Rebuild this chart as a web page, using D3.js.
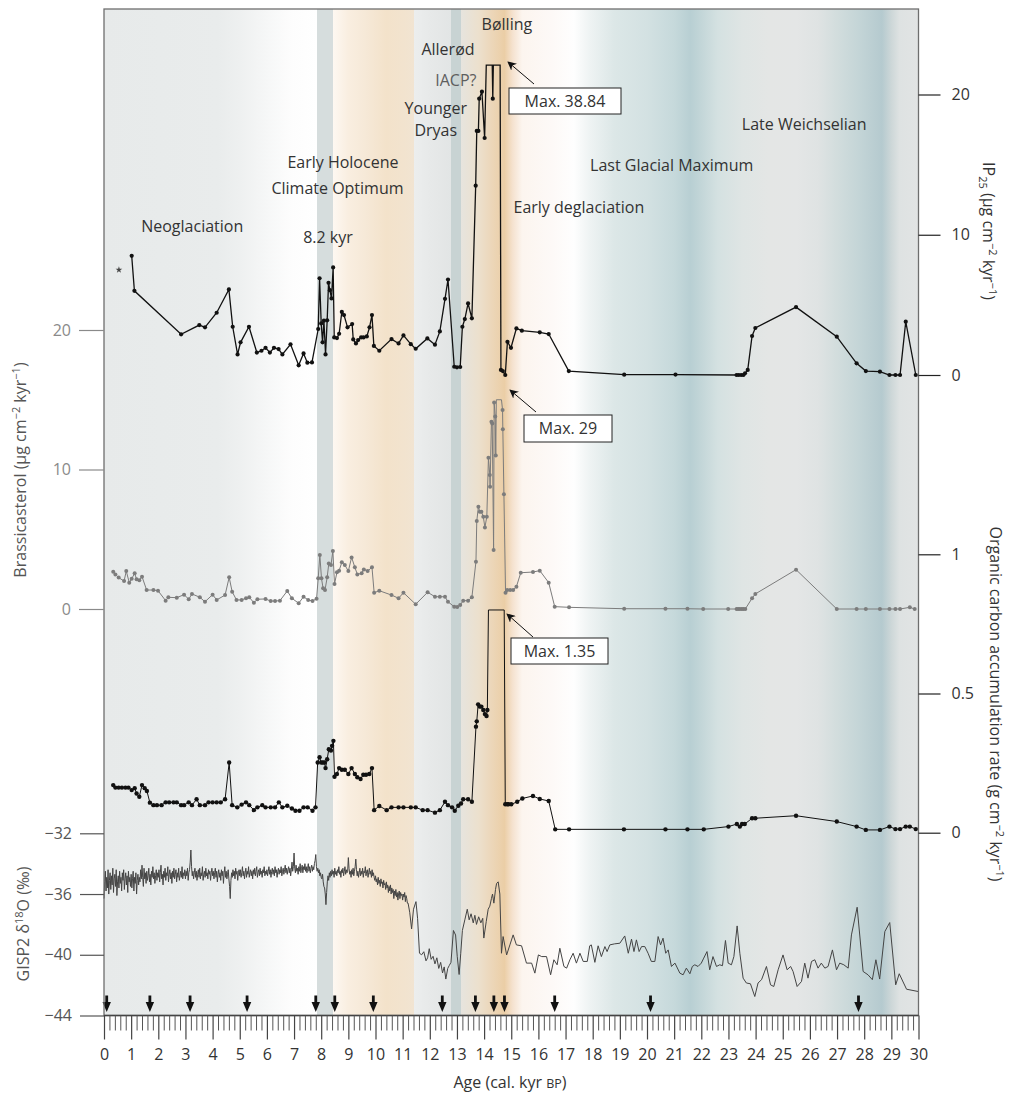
<!DOCTYPE html>
<html><head><meta charset="utf-8">
<script src="https://cdn.jsdelivr.net/npm/d3@7"></script>
<style>body{margin:0;background:#fff}svg{display:block}text{font-family:"Open Sans","Lato",sans-serif}</style>
</head><body><svg id="c" width="1009" height="1095"></svg>
<script>
// ---------- DATA ----------
const xTicks = d3.range(0, 31, 1);
const brassTicks = [0, 10, 20];
const gispTicks = [-44, -40, -36, -32];
const ipTicks = [0, 10, 20];
const ocTicks = [0, 0.5, 1];

// IP25 flux [age kyr, value]
const ip25 = [[1.02,8.5],[1.12,6.0],[2.84,2.9],[3.51,3.56],[3.72,3.4],[4.15,4.44],[4.6,6.1],[4.74,3.44],[4.92,1.47],[5.03,2.33],[5.34,3.44],[5.63,1.6],[5.8,1.73],[5.95,1.94],[6.11,1.6],[6.26,1.94],[6.43,1.85],[6.57,1.47],[6.87,2.19],[7.17,0.69],[7.35,1.54],[7.49,0.88],[7.66,0.9],[7.89,3.28],[7.94,6.9],[8.0,3.68],[8.05,2.33],[8.1,3.87],[8.16,1.47],[8.22,3.9],[8.27,6.57],[8.32,6.05],[8.38,5.46],[8.44,7.67],[8.48,2.68],[8.58,2.63],[8.66,2.94],[8.76,4.5],[8.84,4.27],[8.97,3.4],[9.14,3.63],[9.18,2.54],[9.28,2.25],[9.36,2.49],[9.47,2.68],[9.56,2.68],[9.68,2.75],[9.78,3.4],[9.87,4.27],[9.94,2.07],[10.14,1.73],[10.59,2.56],[10.85,2.25],[11.03,2.82],[11.3,2.2],[11.48,1.87],[11.91,2.61],[12.19,2.16],[12.37,3.11],[12.56,5.43],[12.67,6.81],[12.9,0.59],[13.0,0.55],[13.12,0.57],[13.2,3.44],[13.29,3.99],[13.41,5.1],[13.55,4.04],[13.69,13.5],[13.73,17.4],[13.79,17.4],[13.82,19.7],[13.92,20.2],[14.02,16.9],[14.08,38.84],[14.30,30.0],[14.32,19.7],[14.34,28.0],[14.59,26.0],[14.62,0.36],[14.69,0.28],[14.78,0.0],[14.86,2.37],[14.99,1.94],[15.19,3.32],[15.39,3.16],[16.05,3.04],[16.38,2.92],[17.12,0.28],[19.16,0.02],[21.05,0.03],[23.3,0.0],[23.38,0.0],[23.47,0.0],[23.55,0.0],[23.61,0.12],[23.71,0.36],[23.87,2.78],[23.99,3.35],[25.49,4.84],[26.99,2.73],[27.72,0.83],[28.06,0.28],[28.58,0.24],[28.93,0],[29.15,0],[29.32,0],[29.53,3.8],[29.9,0]];
const ip25Cap = 22.1;

// Brassicasterol flux [age, value]
const brass = [[0.34,2.67],[0.42,2.48],[0.54,2.25],[0.74,2.0],[0.82,2.72],[0.93,1.89],[1.02,2.17],[1.13,2.56],[1.2,2.13],[1.3,2.06],[1.4,2.32],[1.57,1.36],[1.82,1.36],[1.99,1.31],[2.27,0.6],[2.37,0.84],[2.68,0.81],[2.95,1.03],[3.12,0.7],[3.24,1.08],[3.53,0.84],[3.72,0.52],[4.0,1.03],[4.15,0.65],[4.46,1.0],[4.61,2.27],[4.72,1.24],[4.88,0.65],[5.07,0.65],[5.23,0.77],[5.35,0.84],[5.52,0.45],[5.65,0.7],[5.95,0.72],[6.14,0.57],[6.3,0.57],[6.48,0.6],[6.75,1.29],[6.92,0.77],[7.17,0.41],[7.35,0.88],[7.52,0.65],[7.68,0.57],[7.83,0.74],[7.89,2.2],[7.95,3.87],[8.01,2.2],[8.07,1.48],[8.14,1.36],[8.22,2.27],[8.28,3.27],[8.36,3.15],[8.43,4.16],[8.49,1.79],[8.58,2.63],[8.66,2.75],[8.76,3.35],[8.87,3.15],[9.0,2.72],[9.12,3.7],[9.24,2.99],[9.33,2.48],[9.49,2.56],[9.57,2.84],[9.71,2.72],[9.87,2.99],[9.95,1.17],[10.14,1.31],[10.59,1.0],[10.85,0.77],[11.03,1.17],[11.48,0.34],[11.92,1.2],[12.19,0.88],[12.37,0.88],[12.56,0.88],[12.67,0.52],[12.9,0.16],[13.01,0.14],[13.12,0.29],[13.23,0.6],[13.41,0.6],[13.55,0.84],[13.7,3.39],[13.73,6.3],[13.79,7.33],[13.84,6.97],[13.9,6.97],[13.97,6.62],[14.03,5.85],[14.1,6.62],[14.16,10.85],[14.21,9.6],[14.22,8.77],[14.27,13.43],[14.3,13.3],[14.35,4.23],[14.37,14.8],[14.41,13.8],[14.43,11.0],[14.45,29.0],[14.64,22.0],[14.68,14.27],[14.69,12.88],[14.73,8.22],[14.79,1.17],[14.85,1.36],[14.96,1.36],[15.07,1.36],[15.19,1.6],[15.35,2.6],[15.8,2.65],[16.05,2.75],[16.38,1.89],[16.6,0.17],[17.13,0.12],[19.16,0.02],[20.68,0.02],[21.49,0.02],[22.07,0],[22.99,0],[23.3,0],[23.36,0],[23.42,0],[23.49,0],[23.55,0],[23.62,0],[23.87,0.77],[23.99,1.08],[25.49,2.82],[26.99,0],[27.72,0],[28.06,0],[28.58,0],[28.93,0],[29.15,0],[29.32,0],[29.68,0.12],[29.86,0]];
const brassCap = 15;

// Organic carbon accumulation rate [age, value]
const oc = [[0.34,0.171],[0.42,0.162],[0.54,0.162],[0.66,0.162],[0.79,0.162],[0.9,0.162],[1.02,0.153],[1.13,0.16],[1.2,0.141],[1.3,0.129],[1.4,0.171],[1.5,0.16],[1.58,0.15],[1.69,0.108],[1.82,0.099],[1.95,0.099],[2.12,0.099],[2.27,0.109],[2.4,0.109],[2.56,0.109],[2.68,0.109],[2.84,0.099],[2.95,0.099],[3.12,0.109],[3.24,0.099],[3.41,0.12],[3.53,0.099],[3.72,0.099],[3.85,0.109],[4.0,0.109],[4.15,0.109],[4.3,0.109],[4.46,0.12],[4.61,0.252],[4.72,0.099],[4.91,0.091],[5.07,0.101],[5.23,0.109],[5.35,0.099],[5.52,0.081],[5.65,0.091],[5.83,0.099],[5.95,0.091],[6.14,0.091],[6.3,0.091],[6.44,0.109],[6.57,0.091],[6.75,0.097],[6.92,0.087],[7.05,0.079],[7.2,0.079],[7.35,0.091],[7.5,0.091],[7.68,0.079],[7.79,0.091],[7.87,0.252],[7.94,0.271],[8.0,0.252],[8.06,0.252],[8.12,0.252],[8.16,0.232],[8.22,0.264],[8.28,0.3],[8.36,0.295],[8.4,0.312],[8.45,0.33],[8.49,0.201],[8.58,0.211],[8.66,0.232],[8.76,0.226],[8.87,0.226],[9.0,0.211],[9.12,0.232],[9.24,0.211],[9.33,0.199],[9.45,0.193],[9.55,0.208],[9.65,0.208],[9.77,0.211],[9.87,0.232],[9.95,0.081],[10.14,0.096],[10.41,0.081],[10.59,0.091],[10.85,0.091],[11.03,0.091],[11.3,0.091],[11.48,0.091],[11.74,0.081],[11.92,0.081],[12.19,0.072],[12.37,0.081],[12.56,0.111],[12.67,0.099],[12.82,0.091],[12.92,0.079],[13.05,0.097],[13.15,0.105],[13.23,0.12],[13.41,0.12],[13.55,0.111],[13.7,0.381],[13.73,0.4],[13.78,0.461],[13.84,0.453],[13.9,0.453],[13.97,0.441],[14.03,0.426],[14.09,0.419],[14.12,0.441],[14.16,1.35],[14.74,1.1],[14.78,0.102],[14.85,0.102],[14.9,0.102],[15.0,0.102],[15.22,0.111],[15.41,0.123],[15.8,0.132],[16.05,0.121],[16.38,0.114],[16.62,0.012],[17.13,0.012],[19.15,0.012],[20.68,0.012],[21.49,0.012],[22.09,0.012],[23.0,0.022],[23.31,0.031],[23.42,0.022],[23.5,0.031],[23.6,0.031],[23.87,0.052],[23.99,0.052],[25.49,0.061],[26.99,0.04],[27.72,0.022],[28.06,0.01],[28.58,0.01],[28.93,0.022],[29.15,0.013],[29.32,0.013],[29.53,0.022],[29.68,0.022],[29.9,0.013]];
const ocCap = 0.8;

// GISP2 d18O, high-resolution Holocene part (values every 0.025 kyr from 0)
const gispHiStep = 0.025;
const gispHi = [
-36.3,-35.2,-34.5,-35.8,-34.9,-35.6,-34.4,-36.0,-35.1,-34.6,-35.7,-34.8,-35.4,-34.3,-35.9,-35.0,-34.7,-35.5,-34.4,-36.1,-35.2,-34.8,-35.6,-34.5,-35.3,-34.9,-35.8,-34.6,-35.1,-34.4,-35.7,-35.0,-34.6,-35.4,-34.8,-35.9,-34.5,-35.2,-34.9,-35.5,
-34.7,-35.6,-35.0,-34.5,-35.8,-34.9,-35.3,-34.6,-36.0,-35.1,-34.7,-35.4,-34.9,-35.2,-34.4,-35.0,-34.1,-34.9,-35.5,-34.3,-35.0,-34.6,-35.3,-34.5,-35.1,-34.8,-34.3,-35.2,-34.7,-35.4,-34.5,-34.9,-34.2,-35.0,-34.6,-35.3,-34.8,-34.4,-35.1,-34.6,
-34.9,-34.4,-35.2,-34.6,-34.1,-35.0,-34.7,-35.4,-34.5,-34.9,-34.3,-35.1,-34.6,-34.8,-34.2,-35.2,-34.7,-34.4,-35.0,-34.6,-35.3,-34.5,-34.9,-34.3,-35.0,-34.7,-34.4,-35.2,-34.6,-34.9,-34.3,-35.1,-34.8,-34.5,-34.9,-34.2,-35.0,-34.6,-34.8,-34.4,
-35.0,-34.5,-34.8,-34.3,-35.1,-34.6,-34.4,-33.9,-33.1,-34.2,-34.8,-34.5,-35.0,-34.6,-34.3,-34.9,-34.5,-35.1,-34.7,-34.4,-34.9,-34.3,-35.0,-34.6,-34.8,-34.2,-35.1,-34.7,-34.5,-34.9,-34.3,-34.8,-34.6,-35.0,-34.4,-34.7,-34.5,-35.1,-34.6,-34.3,
-34.8,-34.5,-35.0,-34.6,-34.3,-34.9,-34.5,-35.2,-34.7,-34.4,-34.9,-34.6,-35.1,-34.4,-34.8,-34.5,-35.3,-34.6,-34.2,-34.9,-34.5,-35.0,-34.7,-34.4,-35.0,-35.5,-36.3,-35.1,-34.6,-34.9,-34.4,-34.8,-34.5,-35.0,-34.3,-34.7,-34.5,-35.1,-34.6,-34.4,
-34.8,-34.4,-34.9,-34.6,-34.2,-34.8,-34.5,-35.0,-34.6,-34.3,-34.9,-34.5,-34.7,-34.2,-34.9,-34.6,-34.4,-34.8,-34.5,-35.0,-34.4,-34.7,-34.3,-34.8,-34.5,-34.2,-34.9,-34.6,-34.4,-34.8,-34.3,-34.7,-34.5,-34.9,-34.4,-34.6,-34.2,-34.8,-34.5,-34.7,
-34.4,-34.8,-34.5,-34.2,-34.7,-34.4,-34.9,-34.5,-34.3,-34.7,-34.4,-34.8,-34.2,-34.6,-34.4,-34.9,-34.5,-34.3,-34.7,-34.4,-34.6,-34.2,-34.8,-34.5,-34.3,-34.7,-34.4,-34.1,-34.6,-34.3,-34.7,-34.4,-34.2,-34.6,-34.3,-34.8,-34.4,-33.9,-34.5,-34.2,
-33.3,-34.3,-34.6,-34.1,-34.5,-34.3,-34.7,-34.2,-34.5,-34.0,-34.6,-34.3,-34.1,-34.6,-34.2,-34.4,-34.0,-34.5,-34.2,-34.6,-34.3,-34.0,-34.5,-34.2,-34.6,-34.3,-34.1,-34.5,-34.2,-34.4,-34.0,-33.8,-33.4,-34.2,-34.5,-34.3,-34.6,-34.4,-34.8,-34.6,
-34.9,-35.0,-34.7,-35.2,-35.5,-35.6,-36.0,-36.7,-35.9,-35.2,-34.8,-35.1,-34.6,-34.9,-34.5,-34.8,-34.4,-34.7,-34.5,-34.9,-34.3,-34.7,-34.5,-34.8,-34.4,-34.6,-34.2,-34.7,-34.5,-34.9,-34.4,-34.6,-34.3,-34.8,-34.5,-34.2,-34.7,-34.4,-34.6,-34.5,
-33.6,-34.3,-34.7,-34.5,-34.9,-34.4,-34.7,-34.3,-34.8,-34.5,-34.2,-33.7,-34.4,-34.8,-34.5,-34.9,-34.6,-34.3,-34.8,-34.5,-34.7,-34.3,-34.9,-34.5,-34.6,-34.2,-34.8,-34.5,-34.4,-34.9,-34.6,-34.3,-34.7,-34.5,-34.9,-34.4,-34.8,-34.6,-34.9,-35.1,
-34.8,-35.2,-35.0,-35.4,-34.9,-35.3,-35.1,-35.5,-35.0,-35.3,-35.2,-35.6,-35.1,-35.4,-35.3,-35.7,-35.2,-35.6,-35.4,-35.9,-35.5,-35.8,-35.4,-36.0,-35.6,-35.9,-35.7,-36.3,-35.8,-36.1,-35.7,-36.2,-35.9,-36.4,-36.0,-35.8,-36.3,-35.9,-36.1,-36.0,
-36.4,-36.0,-36.2,-35.9,-36.5,-36.1,-36.3,-36.6];
// GISP2 lower-resolution part [age, value]
const gispLo = [[11.2,-36.6],[11.26,-37.2],[11.33,-38.3],[11.4,-37.0],[11.49,-36.5],[11.55,-37.6],[11.62,-39.9],[11.7,-40.0],[11.78,-39.8],[11.86,-40.4],[11.92,-40.2],[11.98,-39.6],[12.05,-40.3],[12.12,-40.1],[12.19,-40.6],[12.26,-40.2],[12.33,-40.9],[12.4,-40.5],[12.47,-41.2],[12.53,-40.8],[12.59,-41.6],[12.66,-40.9],[12.72,-40.7],[12.78,-40.5],[12.87,-38.4],[12.95,-38.7],[13.01,-40.1],[13.08,-41.3],[13.14,-39.9],[13.2,-38.4],[13.29,-37.7],[13.38,-37.0],[13.45,-37.7],[13.52,-37.3],[13.6,-37.9],[13.66,-37.4],[13.72,-38.0],[13.8,-37.5],[13.88,-37.9],[13.95,-37.6],[13.99,-38.9],[14.08,-37.8],[14.15,-37.0],[14.21,-36.8],[14.27,-36.3],[14.31,-36.0],[14.36,-36.6],[14.42,-35.7],[14.46,-35.3],[14.52,-35.2],[14.58,-36.0],[14.64,-39.9],[14.70,-38.80],[14.83,-40.01],[14.95,-39.35],[15.07,-38.69],[15.19,-39.35],[15.38,-39.41],[15.56,-40.55],[15.75,-40.55],[15.87,-41.21],[16.0,-40.01],[16.12,-40.12],[16.3,-40.12],[16.45,-41.32],[16.57,-40.33],[16.69,-40.66],[16.79,-39.57],[16.94,-40.77],[17.04,-40.88],[17.16,-40.33],[17.28,-39.9],[17.4,-40.55],[17.53,-39.9],[17.65,-40.44],[17.8,-40.44],[17.89,-39.41],[17.95,-39.35],[18.08,-40.5],[18.2,-39.41],[18.32,-40.12],[18.45,-39.46],[18.53,-39.79],[18.63,-39.35],[18.81,-39.28],[19.0,-39.24],[19.18,-38.76],[19.31,-39.9],[19.43,-38.97],[19.52,-39.79],[19.61,-39.02],[19.71,-39.79],[19.8,-39.46],[19.92,-39.46],[20.04,-39.9],[20.16,-40.44],[20.29,-40.44],[20.41,-38.8],[20.5,-39.35],[20.59,-38.91],[20.69,-39.9],[20.78,-39.68],[20.9,-40.77],[21.03,-40.55],[21.21,-41.21],[21.33,-41.32],[21.45,-40.88],[21.58,-41.25],[21.67,-40.77],[21.76,-40.66],[21.88,-40.77],[22.0,-40.55],[22.09,-40.22],[22.21,-39.79],[22.31,-40.99],[22.43,-40.12],[22.56,-40.77],[22.68,-40.66],[22.78,-40.72],[22.89,-39.06],[22.99,-40.55],[23.11,-40.66],[23.2,-40.12],[23.32,-38.1],[23.42,-39.9],[23.54,-41.54],[23.66,-41.86],[23.81,-41.91],[23.97,-42.75],[24.09,-41.86],[24.22,-41.64],[24.4,-40.77],[24.55,-41.98],[24.67,-42.09],[24.83,-40.99],[25.01,-40.01],[25.16,-40.99],[25.29,-40.77],[25.38,-41.1],[25.53,-42.09],[25.69,-41.76],[25.81,-40.55],[25.93,-41.54],[26.06,-40.44],[26.18,-40.33],[26.3,-40.88],[26.42,-40.55],[26.55,-40.88],[26.67,-40.77],[26.83,-39.68],[26.98,-40.99],[27.1,-40.55],[27.25,-40.66],[27.41,-40.88],[27.53,-38.69],[27.74,-36.87],[27.96,-41.1],[28.14,-41.32],[28.3,-41.64],[28.43,-40.33],[28.57,-41.6],[28.76,-38.47],[28.94,-37.88],[29.16,-41.98],[29.29,-41.25],[29.56,-42.27],[29.99,-42.42]];

// Dating control points (arrows), kyr
const datingAges = [0.1,1.69,3.17,5.27,7.8,8.5,9.92,12.46,13.68,14.36,14.75,16.6,20.13,27.79];

// Climate period labels
const periodNames = ["Neoglaciation","8.2 kyr","Early Holocene","Climate Optimum","Younger","Dryas","IACP?","Allerød","Bølling","Early deglaciation","Last Glacial Maximum","Late Weichselian"];
const periodAges = [3.25,8.25,8.8,8.6,12.22,12.22,12.96,12.67,14.84,17.49,20.91,25.79];

// Background colour stops [age, colour]
const bgStops = [[0,"#e7eaea"],[4.2,"#e9ecec"],[5.0,"#eef0f0"],[6.0,"#f6f7f7"],[6.9,"#fdfdfd"],[7.85,"#ffffff"],
[7.85,"#d6dddd"],[8.42,"#d6dddd"],
[8.42,"#fdf8f2"],[9.0,"#f9eee0"],[9.6,"#f6e9d8"],[10.4,"#f3e2ca"],[11.0,"#f2e3ce"],[11.42,"#f1e4d2"],
[11.42,"#eceeee"],[12.0,"#e7e9e9"],[12.78,"#e2e5e5"],
[12.78,"#c8d3d3"],[13.15,"#c8d3d3"],
[13.15,"#e6e4de"],[13.8,"#ece0cd"],[14.3,"#ecd6b8"],[14.75,"#ebcea6"],[15.05,"#f5e2cf"],[15.4,"#fcf5ef"],[16.5,"#fdf9f7"],[17.3,"#fefefe"],
[17.9,"#eef3f3"],[18.8,"#dce7e7"],[20.0,"#d3e1e2"],[21.0,"#c6d9db"],[21.6,"#b8cfd3"],[22.0,"#c3d6d8"],[22.6,"#d4e1e1"],[23.5,"#dfe5e4"],[24.5,"#e4e6e5"],[25.5,"#e4e6e6"],[26.3,"#dfe3e3"],[27.0,"#d2dddd"],[27.8,"#c4d5d7"],[28.65,"#b5cacf"],[29.0,"#cdd7d8"],[29.3,"#dee2e2"],[30,"#e2e4e4"]];

// ---------- CHART ----------
const svg = d3.select("#c");
const plotTop = 9, plotBottom = 1015.5;
const x = d3.scaleLinear().domain([0,30]).range([104,918.5]);
const yB = d3.scaleLinear().domain([0,20]).range([609,330]);
const yIP = d3.scaleLinear().domain([0,20]).range([375,94.5]);
const yOC = d3.scaleLinear().domain([0,1]).range([832.7,554.3]);
const yG = d3.scaleLinear().domain([-44,-32]).range([plotBottom,833.3]);

const defs = svg.append("defs");
const grad = defs.append("linearGradient").attr("id","bg").attr("gradientUnits","userSpaceOnUse")
  .attr("x1",x(0)).attr("x2",x(30)).attr("y1",0).attr("y2",0);
grad.selectAll("stop").data(bgStops).join("stop").attr("offset",d=>d[0]/30).attr("stop-color",d=>d[1]);
defs.append("marker").attr("id","ah").attr("viewBox","0 0 10 10").attr("refX",9).attr("refY",5)
  .attr("markerWidth",9).attr("markerHeight",9).attr("markerUnits","userSpaceOnUse").attr("orient","auto")
  .append("path").attr("d","M0,0 L10,5 L0,10 L3,5 Z").attr("fill","#111");

svg.append("rect").attr("x",x(0)).attr("y",plotTop).attr("width",x(30)-x(0)).attr("height",plotBottom-plotTop).attr("fill","url(#bg)");

// period labels
const labelBase = [232,243,168,194,114,136,86,55,30,213,170.5,130];
svg.append("g").selectAll("text").data(periodNames).join("text")
  .attr("x",(d,i)=>x(periodAges[i])).attr("y",(d,i)=>labelBase[i])
  .attr("text-anchor","middle").attr("font-size",16).attr("fill",d=>d==="IACP?"?"#5e5e5e":"#333").text(d=>d);

// star
svg.append("path").attr("d",d3.symbol(d3.symbolStar,14)()).attr("transform",`translate(${x(0.55)},${yIP(7.5)})`).attr("fill","#444");

// GISP2 line
const gispAll = gispHi.map((v,i)=>[i*gispHiStep, v]).concat(gispLo);
svg.append("path").datum(gispAll).attr("fill","none").attr("stroke","#444").attr("stroke-width",1)
  .attr("stroke-linejoin","round")
  .attr("d",d3.line().x(d=>x(d[0])).y(d=>yG(d[1])));

function series(data, yS, cap, color, lw, r){
  const g = svg.append("g");
  g.append("path").datum(data).attr("fill","none").attr("stroke",color).attr("stroke-width",lw)
    .attr("stroke-linejoin","miter")
    .attr("d",d3.line().x(d=>x(d[0])).y(d=>yS(Math.min(d[1],cap))));
  g.selectAll("circle").data(data.filter(d=>d[1]<=cap)).join("circle")
    .attr("cx",d=>x(d[0])).attr("cy",d=>yS(d[1])).attr("r",r).attr("fill",color);
}
series(brass, yB, brassCap, "#7c7c7c", 1, 2);
series(oc, yOC, ocCap, "#111", 1, 2.2);
series(ip25, yIP, ip25Cap, "#111", 1.3, 2.1);

// max annotations
const maxAnn = [
  {t:"Max. 38.84", bx:509, by:88, bw:112, bh:26, x1:534, y1:84, x2:508, y2:62},
  {t:"Max. 29",   bx:524, by:415, bw:88, bh:27, x1:536, y1:412, x2:510, y2:390},
  {t:"Max. 1.35", bx:511, by:638, bw:97, bh:26, x1:533, y1:637, x2:507, y2:614}
];
const ag = svg.append("g");
maxAnn.forEach(a=>{
  ag.append("line").attr("x1",a.x1).attr("y1",a.y1).attr("x2",a.x2).attr("y2",a.y2).attr("stroke","#111").attr("stroke-width",1).attr("marker-end","url(#ah)");
  ag.append("rect").attr("x",a.bx).attr("y",a.by).attr("width",a.bw).attr("height",a.bh).attr("fill","#fff").attr("stroke","#222").attr("stroke-width",1);
  ag.append("text").attr("x",a.bx+a.bw/2).attr("y",a.by+a.bh/2+5.5).attr("text-anchor","middle").attr("font-size",16).attr("fill","#333").text(a.t);
});

// dating arrows
svg.append("g").selectAll("path").data(datingAges).join("path")
  .attr("d",d=>{const c=x(d);return `M${c-1.4},995.5H${c+1.4}V1002H${c+4.2}L${c},1012L${c-4.2},1002H${c-1.4}Z`;})
  .attr("fill","#111");

// frame
svg.append("rect").attr("x",x(0)).attr("y",plotTop).attr("width",x(30)-x(0)).attr("height",plotBottom-plotTop)
  .attr("fill","none").attr("stroke","#6e6e6e").attr("stroke-width",1.3);
svg.append("line").attr("x1",x(0)).attr("x2",x(30)).attr("y1",plotBottom).attr("y2",plotBottom).attr("stroke","#444").attr("stroke-width",1.3);

function styleAxis(g, tickCol, textCol){
  g.select(".domain").remove();
  g.selectAll(".tick line").attr("stroke",tickCol).attr("stroke-width",1.2);
  g.selectAll(".tick text").attr("fill",textCol).attr("font-size",16).attr("font-family",'"Open Sans","Lato",sans-serif');
}
// x axis
const minor = d3.range(0, 30.01, 0.2).filter(v=>Math.abs(v-Math.round(v))>0.01);
const gxm = svg.append("g").attr("transform",`translate(0,${plotBottom})`)
  .call(d3.axisBottom(x).tickValues(minor).tickSize(15).tickFormat(""));
styleAxis(gxm,"#555","#333");
gxm.selectAll(".tick line").attr("stroke-width",1);
const gx = svg.append("g").attr("transform",`translate(0,${plotBottom})`)
  .call(d3.axisBottom(x).tickValues(xTicks).tickSize(24).tickPadding(9).tickFormat(d3.format("d")));
styleAxis(gx,"#444","#333");

// left axes
const gyb = svg.append("g").attr("transform",`translate(${x(0)},0)`)
  .call(d3.axisLeft(yB).tickValues(brassTicks).tickSize(25).tickPadding(8));
styleAxis(gyb,"#8a8a8a","#8a8a8a");
const gyg = svg.append("g").attr("transform",`translate(${x(0)},0)`)
  .call(d3.axisLeft(yG).tickValues(gispTicks).tickSize(24).tickPadding(8));
styleAxis(gyg,"#555","#555");

// right axes
const gyi = svg.append("g").attr("transform",`translate(${x(30)},0)`)
  .call(d3.axisRight(yIP).tickValues(ipTicks).tickSize(22).tickPadding(11));
styleAxis(gyi,"#222","#333");
const gyo = svg.append("g").attr("transform",`translate(${x(30)},0)`)
  .call(d3.axisRight(yOC).tickValues(ocTicks).tickSize(22).tickPadding(11).tickFormat(d3.format("")));
styleAxis(gyo,"#222","#333");

// titles with rich text
function rich(t, parts){
  parts.forEach(p=>{
    const s = t.append("tspan").text(p[0]);
    if(p[1]==="sup"){ s.attr("font-size",11).attr("dy",-6); }
    else if(p[1]==="sub"){ s.attr("font-size",11).attr("dy",4); }
    else if(p[1]==="back-sup"){ s.attr("dy",6); }
    else if(p[1]==="back-sub"){ s.attr("dy",-4); }
  });
}
const t1 = svg.append("text").attr("transform","translate(26,470) rotate(-90)").attr("text-anchor","middle").attr("font-size",16).attr("fill","#555");
rich(t1, [["Brassicasterol (µg cm"],["−2","sup"],[" kyr","back-sup"],["−1","sup"],[")","back-sup"]]);
const t2 = svg.append("text").attr("transform","translate(29,924) rotate(-90)").attr("text-anchor","middle").attr("font-size",16).attr("fill","#555");
rich(t2, [["GISP2 δ"],["18","sup"],["O (‰)","back-sup"]]);
const t3 = svg.append("text").attr("transform","translate(983,231) rotate(90)").attr("text-anchor","middle").attr("font-size",16).attr("fill","#333");
rich(t3, [["IP"],["25","sub"],[" (µg cm","back-sub"],["−2","sup"],[" kyr","back-sup"],["−1","sup"],[")","back-sup"]]);
const t4 = svg.append("text").attr("transform","translate(990,704) rotate(90)").attr("text-anchor","middle").attr("font-size",16).attr("fill","#333");
rich(t4, [["Organic carbon accumulation rate (g cm"],["−2","sup"],[" kyr","back-sup"],["−1","sup"],[")","back-sup"]]);
const t5 = svg.append("text").attr("x",510).attr("y",1088).attr("text-anchor","middle").attr("font-size",16).attr("fill","#333");
t5.append("tspan").text("Age (cal. kyr ");
t5.append("tspan").attr("font-size",12.5).text("BP");
t5.append("tspan").text(")");
</script></body></html>
